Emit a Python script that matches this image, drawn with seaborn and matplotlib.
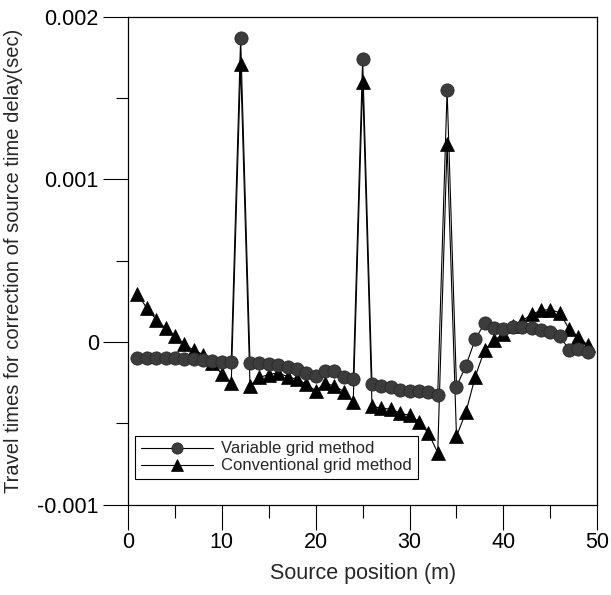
import numpy as np
import pandas as pd
import matplotlib
matplotlib.use("Agg")
import matplotlib.pyplot as plt
import seaborn as sns
from matplotlib.ticker import MultipleLocator, FixedLocator

# ---- data ----
source_position = list(range(1, 50))

variable_grid = [
    -0.000100, -0.000100, -0.000100, -0.000100, -0.000100, -0.000102, -0.000105, -0.000110,
    -0.000115, -0.000120, -0.000122, 0.001870, -0.000128, -0.000128, -0.000136, -0.000142,
    -0.000152, -0.000163, -0.000189, -0.000209, -0.000177, -0.000177, -0.000213, -0.000230,
    0.001740, -0.000258, -0.000270, -0.000274, -0.000295, -0.000300, -0.000300, -0.000305,
    -0.000325, 0.001550, -0.000274, -0.000146, 0.000017, 0.000116, 0.000085, 0.000080,
    0.000090, 0.000095, 0.000085, 0.000075, 0.000060, 0.000040, -0.000050, -0.000040,
    -0.000060,
]

conventional_grid = [
    0.000295, 0.000210, 0.000138, 0.000085, 0.000035, -0.000014, -0.000050, -0.000077,
    -0.000130, -0.000197, -0.000254, 0.001710, -0.000270, -0.000218, -0.000200, -0.000190,
    -0.000213, -0.000230, -0.000258, -0.000300, -0.000254, -0.000270, -0.000305, -0.000366,
    0.001600, -0.000396, -0.000407, -0.000413, -0.000437, -0.000452, -0.000490, -0.000560,
    -0.000680, 0.001220, -0.000580, -0.000433, -0.000213, -0.000047, 0.000010, 0.000050,
    0.000100, 0.000130, 0.000170, 0.000195, 0.000200, 0.000180, 0.000080, 0.000030,
    -0.000020,
]

series_labels = ["Variable grid method", "Conventional grid method"]
x_ticks = [0, 10, 20, 30, 40, 50]
y_ticks = [-0.001, 0, 0.001, 0.002]
y_tick_labels = ["-0.001", "0", "0.001", "0.002"]

# ---- styling ----
sns.set_style("ticks")
plt.rcParams["font.family"] = ["Liberation Sans", "DejaVu Sans"]

fig = plt.figure(figsize=(6.11, 5.95), dpi=100)
ax = fig.add_axes([0.2095, 0.152, 0.768, 0.8195])

df_var = pd.DataFrame({"x": source_position, "y": variable_grid})
df_con = pd.DataFrame({"x": source_position, "y": conventional_grid})

sns.lineplot(data=df_var, x="x", y="y", ax=ax, color="black", linewidth=0.8,
             marker="o", markersize=9.5, markerfacecolor="#3c3c3c",
             markeredgecolor="#2a2a2a", markeredgewidth=0.6,
             label=series_labels[0], zorder=3)
sns.lineplot(data=df_con, x="x", y="y", ax=ax, color="black", linewidth=0.8,
             marker="^", markersize=9.5, markerfacecolor="black",
             markeredgecolor="black", markeredgewidth=0.5,
             label=series_labels[1], zorder=2)

ax.set_xlim(0, 50)
ax.set_ylim(-0.001, 0.002)
ax.xaxis.set_major_locator(FixedLocator(x_ticks))
ax.xaxis.set_minor_locator(MultipleLocator(5))
ax.yaxis.set_major_locator(FixedLocator(y_ticks))
ax.yaxis.set_minor_locator(MultipleLocator(0.0005))
ax.set_yticklabels(y_tick_labels)
ax.set_xticklabels([str(v) for v in x_ticks])

ax.tick_params(axis="both", which="major", direction="out", length=18, width=0.8,
               labelsize=15.5, color="black", labelcolor="black")
ax.tick_params(axis="x", which="major", pad=2)
ax.tick_params(axis="y", which="major", pad=3)
ax.tick_params(axis="both", which="minor", direction="out", length=9, width=0.8,
               color="black")

for side in ["top", "right", "left", "bottom"]:
    ax.spines[side].set_visible(True)
    ax.spines[side].set_linewidth(0.9)
    ax.spines[side].set_color("black")

ax.set_xlabel("Source position (m)", fontsize=15.5, labelpad=7)
ax.set_ylabel("Travel times for correction of source time delay(sec)", fontsize=14.5,
              labelpad=10)

leg = ax.legend(loc="lower left", bbox_to_anchor=(0.008, 0.045), fontsize=12,
                frameon=True, fancybox=False, handlelength=4.3, handletextpad=0.5,
                borderpad=0.35, labelspacing=0.12, markerscale=0.85,
                borderaxespad=0.2)
leg.get_frame().set_edgecolor("black")
leg.get_frame().set_linewidth(0.8)
leg.get_frame().set_facecolor("white")
leg.get_frame().set_alpha(1)

fig.savefig("out.png", dpi=100)
